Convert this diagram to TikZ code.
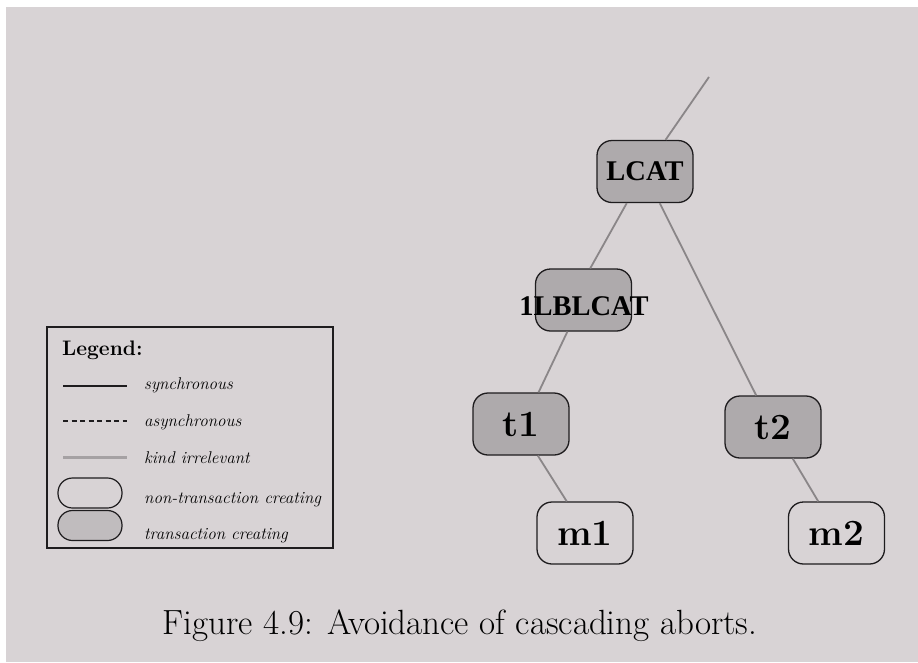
\documentclass[tikz,border=0pt]{standalone}
\usepackage{fontspec}
\usepackage{tikz}
\newfontfamily\capslabel{Liberation Serif}

\definecolor{paper}{RGB}{216,211,213}
\definecolor{boxfill}{RGB}{174,170,172}
\definecolor{stipple}{RGB}{192,188,190}
\definecolor{edgegray}{RGB}{138,134,136}
\definecolor{legendgray}{RGB}{165,161,163}
\definecolor{ink}{RGB}{30,28,30}

\tikzset{
  txbox/.style={draw=ink, line width=1.3pt, fill=boxfill, rounded corners=15pt,
    minimum width=96pt, minimum height=62pt, inner sep=0pt,
    font=\fontsize{37}{40}\selectfont\bfseries},
  plainbox/.style={draw=ink, line width=1.3pt, rounded corners=15pt,
    minimum width=96pt, minimum height=62pt, inner sep=0pt,
    font=\fontsize{37}{40}\selectfont\bfseries},
  capsfont/.style={font=\capslabel\fontsize{28.5}{30}\selectfont\bfseries},
  smalllabel/.style={capsfont, inner sep=0pt},
  edge/.style={draw=edgegray, line width=1.8pt},
  legtext/.style={anchor=base west, inner sep=0pt, font=\fontsize{17}{19}\selectfont\itshape},
  capsule/.style={draw=ink, line width=1.2pt, rounded corners=14.5pt,
    minimum width=64pt, minimum height=30pt, inner sep=0pt},
}

\begin{document}
\begin{tikzpicture}[x=1pt, y=-1pt]
  \useasboundingbox (0,0) rectangle (918,662);
  \fill[white] (0,0) rectangle (918,662);
  \fill[paper] (6,7) rectangle (918,662);

  % call tree
  \node[txbox, capsfont] (lcat) at (645,171.5) {LCAT};
  \node[txbox] (lbl) at (583.5,300) {};
  \node[smalllabel] (lbltext) at (584,306) {1LBLCAT};
  \node[txbox] (t1) at (521,424) {t1};
  \node[txbox] (t2) at (773,427) {t2};
  \node[plainbox] (m1) at (585,533) {m1};
  \node[plainbox] (m2) at (836.5,533) {m2};
  \coordinate (up) at (709,77);

  \draw[edge] (up) -- (lcat.57.6);
  \draw[edge] (lcat.240.3) -- (lbl.78.5);
  \draw[edge] (lcat.295.5) -- (t2.118.7);
  \draw[edge] (lbl.243.4) -- (t1.61.3);
  \draw[edge] (t1.298.7) -- (m1.120.1);
  \draw[edge] (t2.302.8) -- (m2.120.8);

  % legend
  \node[draw=ink, line width=1.2pt, minimum width=286pt, minimum height=221pt,
        inner sep=0pt] (legend) at (190,437.5) {};
  \node[anchor=base west, inner sep=0pt, font=\fontsize{21}{23}\selectfont\bfseries]
    (legtitle) at (62,355) {Legend:};

  \coordinate (s1) at (63,386);  \coordinate (s2) at (127,386);
  \coordinate (a1) at (63,421);  \coordinate (a2) at (127,421);
  \coordinate (k1) at (63,457);  \coordinate (k2) at (127,457);
  \draw[ink, line width=1.6pt] (s1) -- (s2);
  \draw[ink, line width=1.1pt, dash pattern=on 5pt off 3.5pt] (a1) -- (a2);
  \draw[legendgray, line width=3pt] (k1) -- (k2);
  \node[capsule] (nontx) at (90,493) {};
  \node[capsule, fill=stipple] (tx) at (90,525.5) {};

  \node[legtext] (lsync) at (144,389) {synchronous};
  \node[legtext] (lasync) at (144,426) {asynchronous};
  \node[legtext] (lkind) at (144,463) {kind irrelevant};
  \node[legtext] (lnon) at (144,503) {non-transaction creating};
  \node[legtext] (ltx) at (144,539) {transaction creating};

  % caption
  \node[anchor=base, inner sep=0pt, font=\fontsize{35}{38}\selectfont]
    (caption) at (460,634) {Figure 4.9: Avoidance of cascading aborts.};
\end{tikzpicture}
\end{document}
